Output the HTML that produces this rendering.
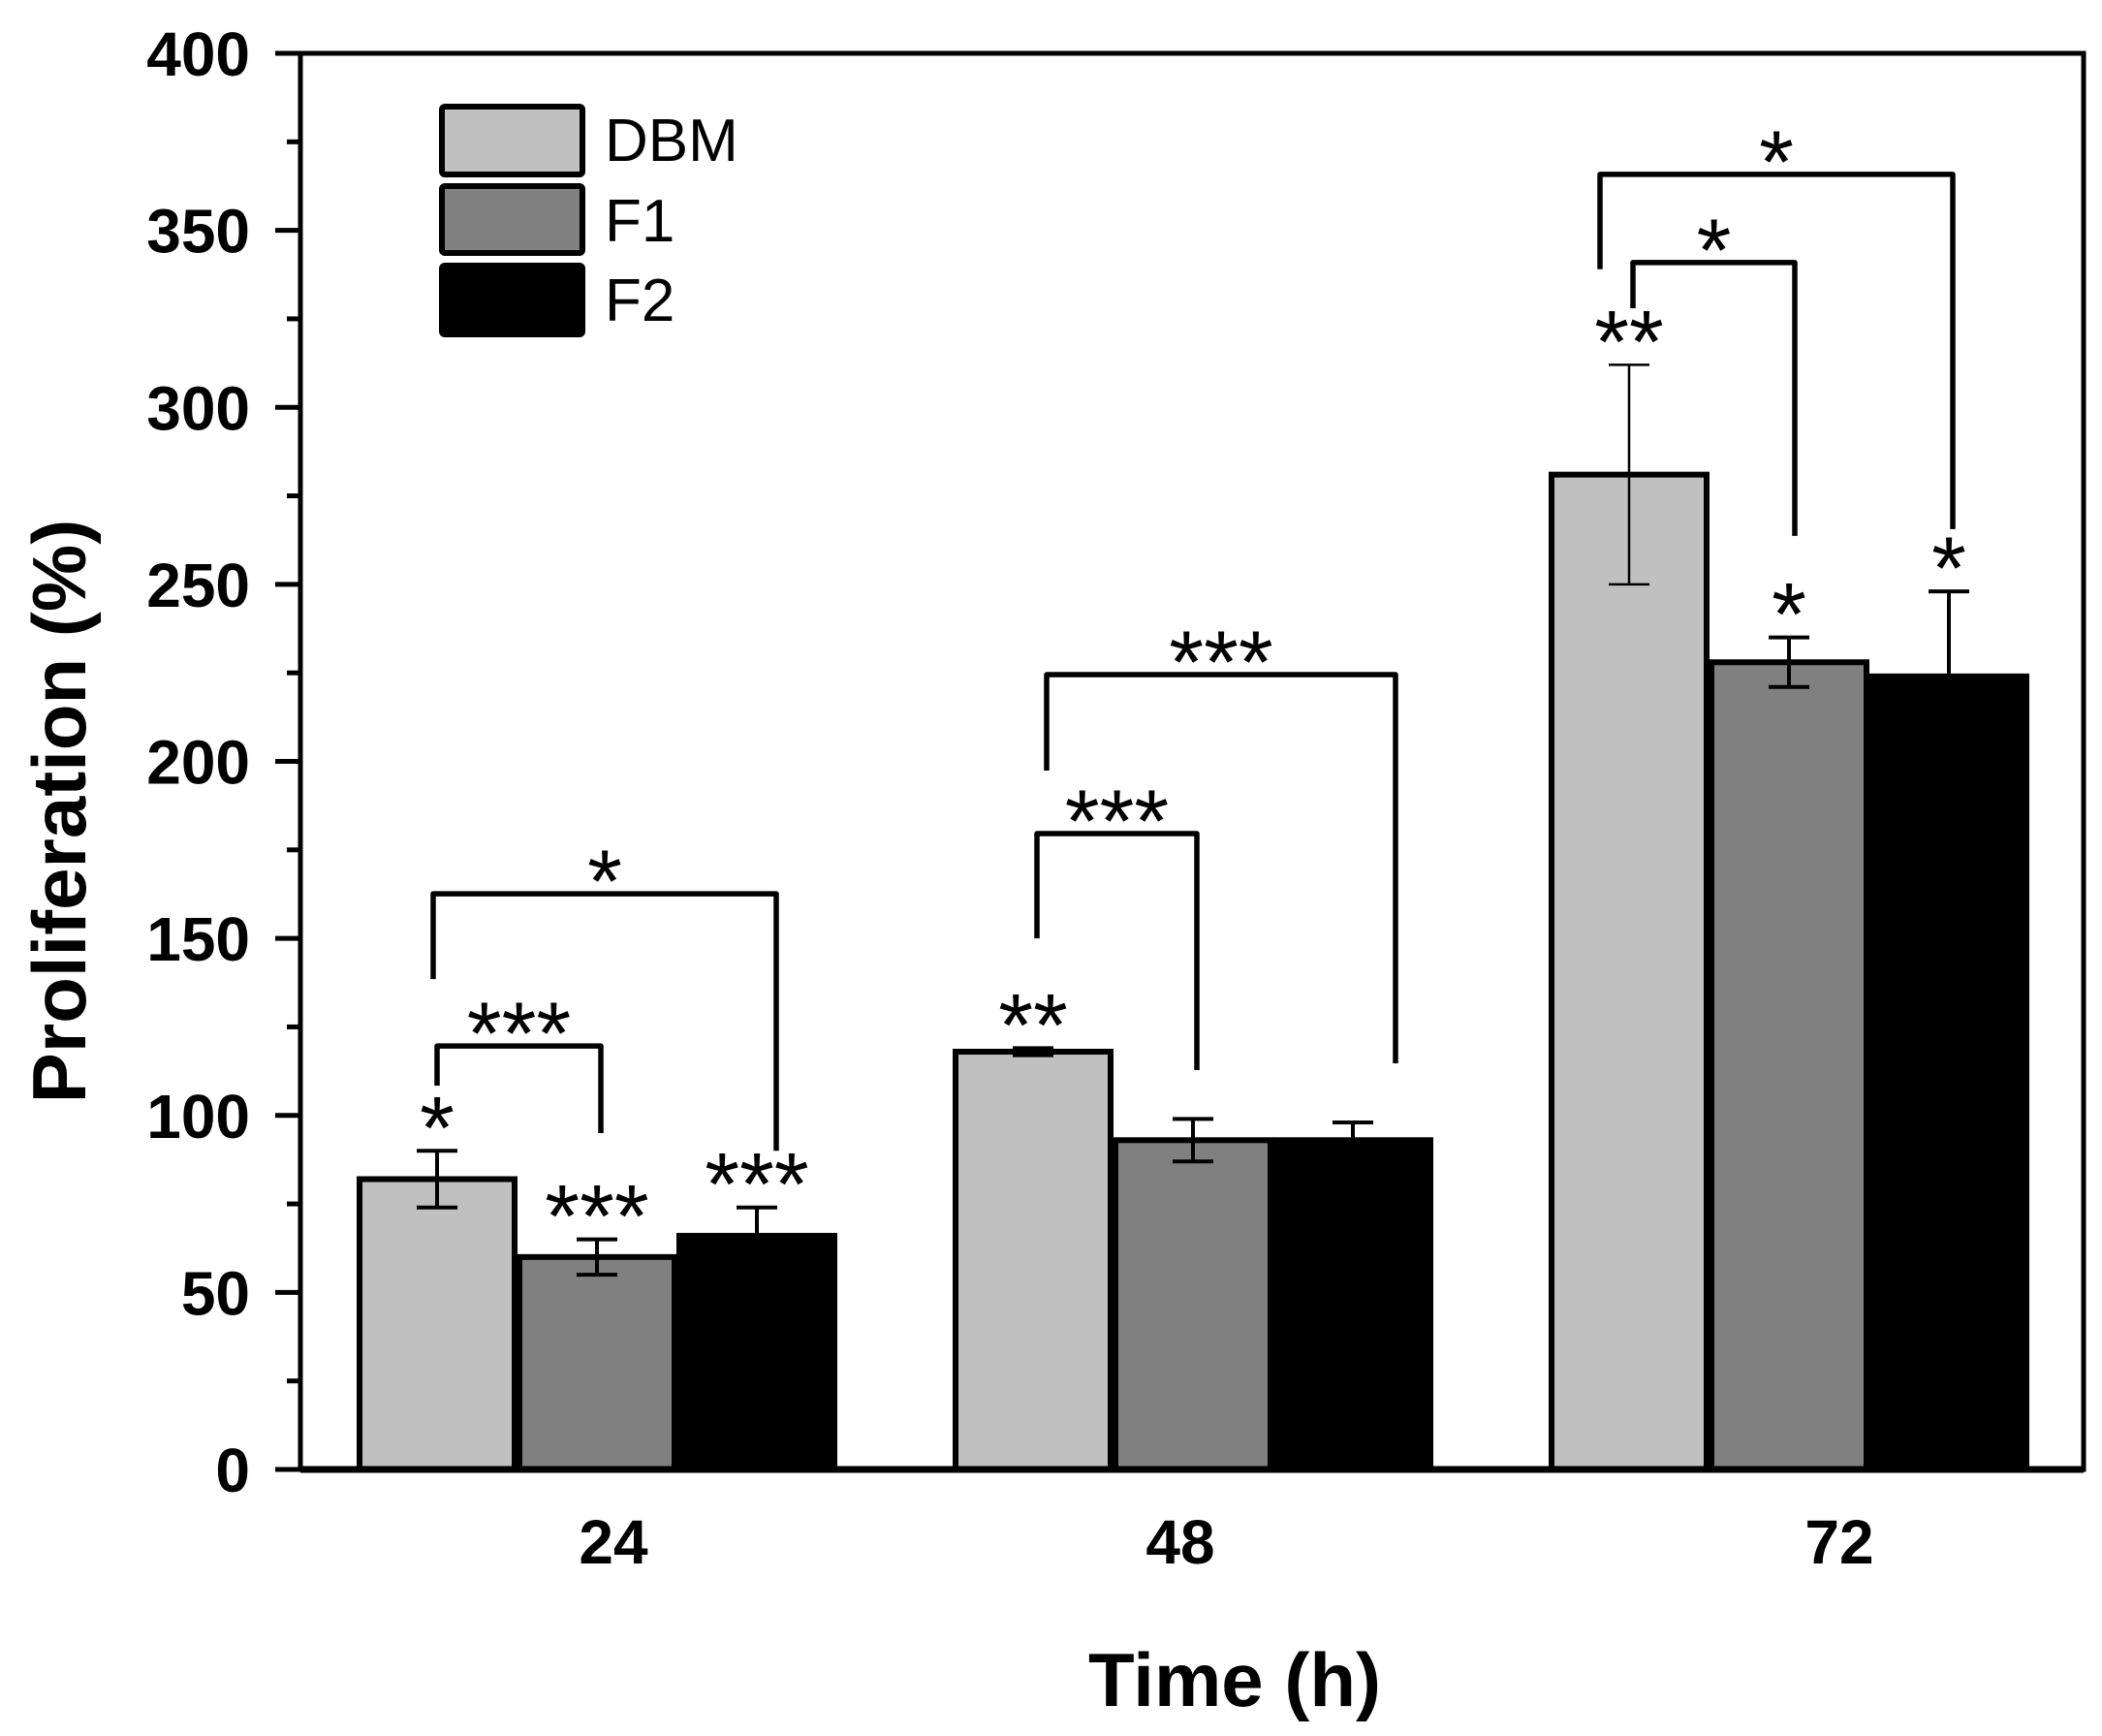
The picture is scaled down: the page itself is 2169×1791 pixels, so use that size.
<!DOCTYPE html>
<html><head><meta charset="utf-8"><style>
html,body{margin:0;padding:0;background:#fff;}
svg{display:block;font-family:"Liberation Sans",Arial,sans-serif;}
</style></head><body>
<svg id="chart" width="2169" height="1791" viewBox="0 0 2169 1791" xmlns="http://www.w3.org/2000/svg">
<g id="bars"></g>
<g id="annot"></g>
<g id="axes"></g>
<text transform="translate(88,837) rotate(-90)" text-anchor="middle" font-size="78" font-weight="bold">Proliferation (%)</text>
<text x="1274" y="1760" text-anchor="middle" font-size="78" font-weight="bold">Time (h)</text>
<g>
  <rect x="456" y="110" width="145" height="70" fill="#c0c0c0" stroke="#000" stroke-width="6" rx="3"/>
  <text x="624" y="166" font-size="62">DBM</text>
  <rect x="456" y="192" width="145" height="69" fill="#808080" stroke="#000" stroke-width="6" rx="3"/>
  <text x="624" y="249" font-size="62">F1</text>
  <rect x="456" y="274" width="145" height="71" fill="#000" stroke="#000" stroke-width="6" rx="3"/>
  <text x="624" y="331" font-size="62">F2</text>
</g>
</svg>
<script>
const categories = ["24", "48", "72"];
const seriesNames = ["DBM", "F1", "F2"];
const dbmValues = [82, 118, 281];
const f1Values = [60, 93, 228];
const f2Values = [66, 93, 224];
const dbmErrors = [8, 1, 31];
const f1Errors = [5, 6, 7];
const f2Errors = [8, 5, 24];
const yTicks = [0, 50, 100, 150, 200, 250, 300, 350, 400];
// significance brackets: [group, fromSeries, toSeries, level, leftEnd, rightEnd, label]
const brackets = [
  [0,0,1,119.6,108.4,95,"***"],
  [0,0,2,162.6,138.5,90,"*"],
  [1,0,1,179.6,150,112.8,"***"],
  [1,0,2,224.5,197.4,114.7,"***"],
  [2,0,1,340.9,328,263.7,"*"],
  [2,0,2,365.8,339,265.6,"*"]
];
// bar-top stars: [group, series, label]
const barStars = [[0,0,"*"],[0,1,"***"],[0,2,"***"],[1,0,"**"],[2,0,"**"],[2,1,"*"],[2,2,"*"]];

const NS = "http://www.w3.org/2000/svg";
const X0 = 310, X1 = 2150, Y0 = 1516, Y1 = 55;
function y(v){ return Y0 - (v/400)*(Y0-Y1); }
function groupX(i){ return 616 + i*615; }
function barX(i,j){ return groupX(i) + (j-1)*165; }
const BW = 160;
const colors = ["#c0c0c0","#808080","#000000"];
const vals = [dbmValues, f1Values, f2Values];
const errs = [dbmErrors, f1Errors, f2Errors];
// small horizontal nudges of bracket legs (style only)
const legNudgeL = [0,-4,4,14,4,-30];
const legNudgeR = [4,20,4,44,6,4];
function mk(tag, attrs, parent){ const e=document.createElementNS(NS,tag); for(const k in attrs) e.setAttribute(k,attrs[k]); parent.appendChild(e); return e; }

const gb = document.getElementById("bars");
for(let i=0;i<categories.length;i++){
  for(let j=0;j<3;j++){
    const cx = barX(i,j), v = vals[j][i], e = errs[j][i];
    const r = mk("rect",{x:cx-BW/2,y:y(v),width:BW,height:Y0-y(v),fill:colors[j],stroke:"#000","stroke-width":6},gb);
    
    
    const eg = mk("g",{stroke:"#000","stroke-width":j===0&&i===2?2.5:4},gb);
    
    
    mk("line",{x1:cx,x2:cx,y1:y(v+e),y2:y(v-e)},eg);
    mk("line",{x1:cx-21,x2:cx+21,y1:y(v+e),y2:y(v+e)},eg);
    mk("line",{x1:cx-21,x2:cx+21,y1:y(v-e),y2:y(v-e)},eg);
  }
}

const ga = document.getElementById("annot");
brackets.forEach((b,bi)=>{
  const [g,a,c,lv,le,re,lab] = b;
  const xa = barX(g,a)+legNudgeL[bi], xc = barX(g,c)+legNudgeR[bi];
  const p = mk("path",{d:`M${xa},${y(le)} L${xa},${y(lv)} L${xc},${y(lv)} L${xc},${y(re)}`,fill:"none",stroke:"#000","stroke-width":5.5,"stroke-linejoin":"round"},ga);
  
  
  const t = mk("text",{x:(xa+xc)/2,y:y(lv)+19,"text-anchor":"middle","font-size":92},ga);
  t.textContent = lab;
  
  
});
for(const s of barStars){
  const [g,j,lab] = s;
  const top = vals[j][g] + errs[j][g];
  const t = mk("text",{x:barX(g,j),y:y(top)+8,"text-anchor":"middle","font-size":92},ga);
  t.textContent = lab;
  
  
}

const gx = document.getElementById("axes");
const fr = mk("rect",{x:X0,y:Y1,width:X1-X0,height:Y0-Y1,fill:"none",stroke:"#000","stroke-width":5},gx);


const bl = mk("line",{x1:X0,x2:X1,y1:Y0,y2:Y0,stroke:"#000","stroke-width":7},gx);


for(let k=0;k<yTicks.length;k++){
  const v = yTicks[k];
  const tk = mk("line",{x1:X0-26,x2:X0,y1:y(v),y2:y(v),stroke:"#000","stroke-width":5},gx);
  
  
  const t = mk("text",{x:258,y:y(v)+23,"text-anchor":"end","font-size":64,"font-weight":"bold"},gx);
  t.textContent = v;
  
  
  if(k<yTicks.length-1){
    const m = mk("line",{x1:X0-14,x2:X0,y1:y(v+25),y2:y(v+25),stroke:"#000","stroke-width":5},gx);
    
    
  }
}
for(let i=0;i<categories.length;i++){
  const t = mk("text",{x:[633,1218,1898][i],y:1613,"text-anchor":"middle","font-size":64,"font-weight":"bold"},gx);
  t.textContent = categories[i];
  
  
}
</script>
</body></html>
